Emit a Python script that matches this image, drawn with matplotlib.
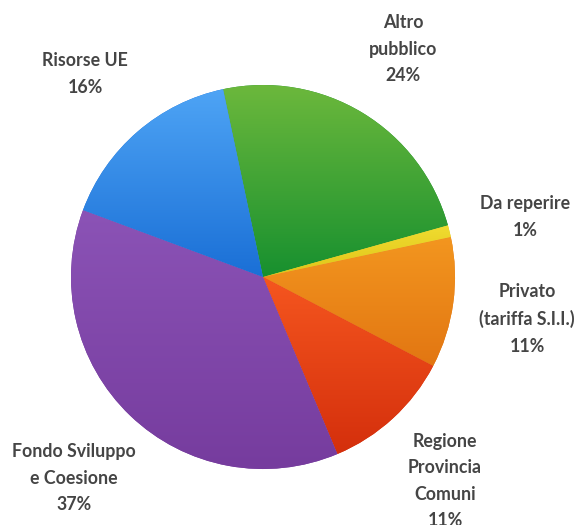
import numpy as np
import matplotlib
matplotlib.use("Agg")
import matplotlib.pyplot as plt
from matplotlib.colors import LinearSegmentedColormap

# Dati del grafico (ordine orario a partire dall'alto)
categorie = ["Altro\npubblico", "Da reperire", "Privato\n(tariffa S.I.I.)",
             "Regione\nProvincia\nComuni", "Fondo Sviluppo\ne Coesione", "Risorse UE"]
percentuali = [24, 1, 11, 11, 37, 16]

# colori sfumati (chiaro in alto, scuro in basso)
colori_alto = ["#6cb83c", "#f0dc30", "#f3961f", "#f5561f", "#8b53b6", "#4ea4f5"]
colori_basso = ["#17902f", "#e0c418", "#e27612", "#d42f0c", "#763c9e", "#1a6fd6"]

# posizioni delle etichette (pixel dall'alto)
pos_etichette = [(403, 49), (525, 217), (527, 319), (445, 481), (74, 478), (85, 74)]

W, H = 583, 525
fig = plt.figure(figsize=(W / 100, H / 100), dpi=100)
ax = fig.add_axes([0, 0, 1, 1])

centro = (263, H - 277)
raggio = 192

wedges, _ = ax.pie(percentuali, startangle=102, counterclock=False,
                   center=centro, radius=raggio, frame=True,
                   colors=colori_basso, wedgeprops=dict(linewidth=0))

# sfumatura verticale per ogni spicchio
for w, c1, c2 in zip(wedges, colori_alto, colori_basso):
    bb = w.get_path().get_extents()
    cmap = LinearSegmentedColormap.from_list("g", [c2, c1])
    grad = np.linspace(0, 1, 256).reshape(-1, 1)
    im = ax.imshow(grad, cmap=cmap, origin="lower", aspect="auto",
                   extent=[bb.x0, bb.x1, bb.y0, bb.y1], zorder=2,
                   interpolation="bilinear")
    im.set_clip_path(w)

ax.set_xlim(0, W)
ax.set_ylim(0, H)
ax.set_aspect("equal")
ax.axis("off")

for nome, p, (x, y) in zip(categorie, percentuali, pos_etichette):
    ax.text(x, H - y, f"{nome}\n{p}%", ha="center", va="center",
            fontsize=12.8, fontweight="bold", family="Lato",
            color="#454545", linespacing=1.68)

fig.savefig("out.png", dpi=100)
